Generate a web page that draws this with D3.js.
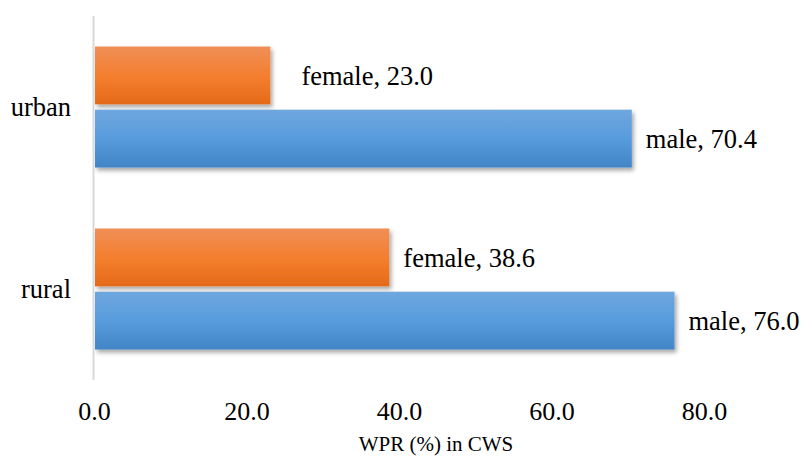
<!DOCTYPE html>
<html><head><meta charset="utf-8">
<script src="https://cdn.jsdelivr.net/npm/d3@7"></script>
<style>body{margin:0;background:#fff}svg{display:block}</style>
</head><body>
<svg id="c" width="801" height="456"></svg>
<script>
const categories = ["urban", "rural"];
const seriesNames = ["female", "male"];
const female = [23.0, 38.6];
const male = [70.4, 76.0];
const tickValues = [0, 20, 40, 60, 80];
const axisTitle = "WPR (%) in CWS";

const FONT = '"Liberation Serif"';
const svg = d3.select("#c");
const W = 801, H = 456;
const m = {left: 95, right: 20, top: 16, bottom: 76};
const x = d3.scaleLinear().domain([0, 90]).range([m.left, m.left + 90 * 7.625]);
const y = d3.scaleBand().domain(categories).range([m.top, H - m.bottom]).paddingInner(0).paddingOuter(0);
const inner = d3.scaleBand().domain(seriesNames).range([30.5, y.bandwidth() - 30.5]).paddingInner(0.085);

const defs = svg.append("defs");
const grads = {
  female: [["0%", "#F08F58"], ["50%", "#F47F2F"], ["100%", "#E46A18"]],
  male: [["0%", "#6FA7DE"], ["50%", "#579CDD"], ["100%", "#4285C6"]]
};
Object.entries(grads).forEach(([k, stops]) => {
  const g = defs.append("linearGradient").attr("id", "g-" + k).attr("x1", 0).attr("y1", 0).attr("x2", 0).attr("y2", 1);
  stops.forEach(s => g.append("stop").attr("offset", s[0]).attr("stop-color", s[1]));
});
const f = defs.append("filter").attr("id", "sh").attr("x", "-5%").attr("y", "-20%").attr("width", "115%").attr("height", "150%");
f.append("feDropShadow").attr("dx", 2).attr("dy", 3).attr("stdDeviation", 2).attr("flood-color", "#000").attr("flood-opacity", 0.35);

const rows = [];
categories.forEach((c, i) => {
  rows.push({cat: c, s: "female", v: female[i]});
  rows.push({cat: c, s: "male", v: male[i]});
});

svg.append("g").selectAll("rect").data(rows).join("rect")
  .attr("x", x(0))
  .attr("y", d => y(d.cat) + inner(d.s))
  .attr("width", d => x(d.v) - x(0))
  .attr("height", inner.bandwidth())
  .attr("fill", d => "url(#g-" + d.s + ")")
  .attr("filter", "url(#sh)");

svg.append("line").attr("x1", x(0) - 1.5).attr("x2", x(0) - 1.5).attr("y1", m.top).attr("y2", H - m.bottom)
  .attr("stroke", "#D9D9D9").attr("stroke-width", 2);

svg.append("g").selectAll("text").data(rows).join("text")
  .attr("x", d => x(d.v) + ((d.cat === "urban" && d.s === "female") ? 31 : 14))
  .attr("y", d => y(d.cat) + inner(d.s) + inner.bandwidth() / 2)
  .attr("dy", "0.35em")
  .style("font-family", FONT).attr("fill", "#000")
  .style("font-size", "26.5px")
  .text(d => d.s + ", " + d.v.toFixed(1));

svg.append("g").selectAll("text").data(categories).join("text")
  .attr("x", 71).attr("y", d => y(d) + y.bandwidth() / 2)
  .attr("text-anchor", "end").attr("dy", "0.35em").style("font-size", "26.5px")
  .style("font-family", FONT).attr("fill", "#000")
  .text(d => d);

const xa = svg.append("g").attr("transform", `translate(-1,${H - m.bottom})`)
  .call(d3.axisBottom(x).tickValues(tickValues).tickFormat(d3.format(".1f")).tickSize(0).tickPadding(22));
xa.select(".domain").remove();
xa.selectAll("text").attr("fill", "#000").style("font-family", FONT).style("font-size", "26px");

svg.append("text").attr("x", 436).attr("y", 451).attr("text-anchor", "middle").style("font-size", "21px")
  .style("font-family", FONT).attr("fill", "#000").text(axisTitle);
</script>
</body></html>
